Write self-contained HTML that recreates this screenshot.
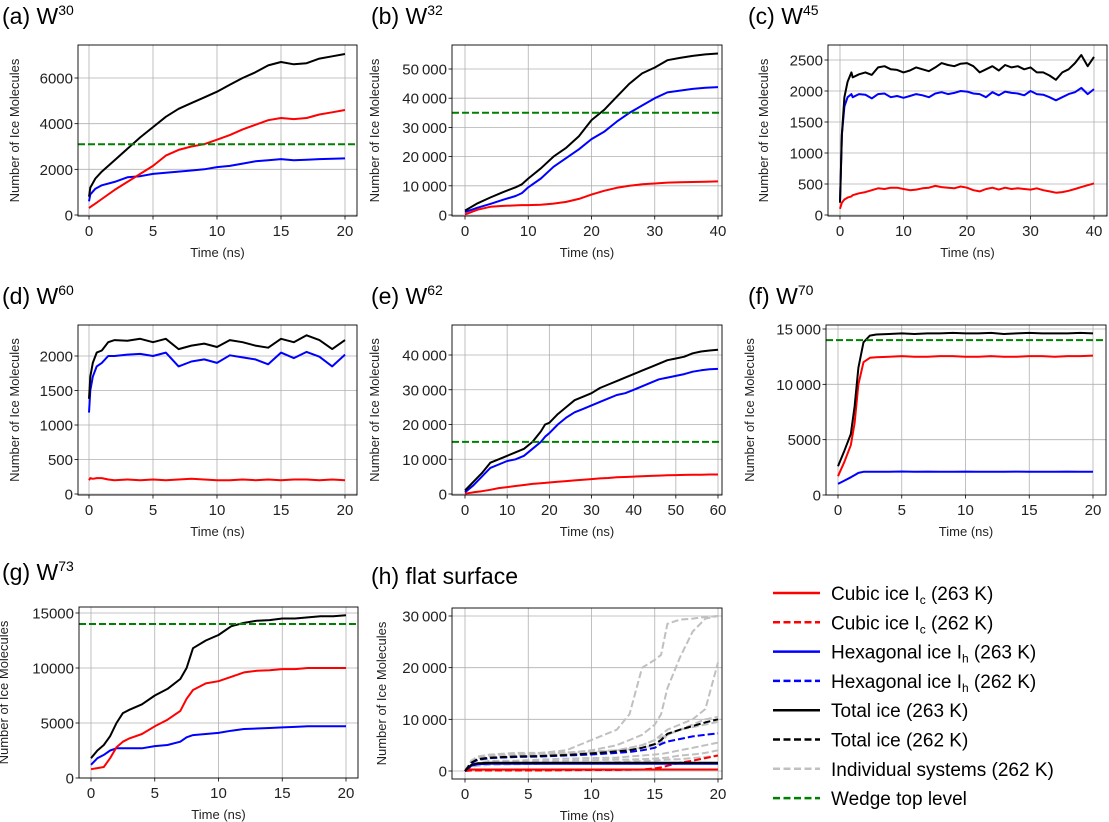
<!DOCTYPE html>
<html><head><meta charset="utf-8">
<style>
body{margin:0;background:#fff;}
svg{display:block;font-family:"Liberation Sans",Arial,sans-serif;}
</style></head>
<body>
<svg id="fig" width="1109" height="822" viewBox="0 0 1109 822" xmlns="http://www.w3.org/2000/svg"></svg>
<script>
// ---------- data ----------
const aTime=[0,0.1,0.5,1,2,3,4,5,6,7,8,9,10,11,12,13,14,15,16,17,18,19,20];
const aTotal=[800,1200,1600,1900,2400,2900,3400,3850,4300,4650,4900,5150,5400,5700,6000,6250,6550,6700,6600,6650,6850,6950,7050];
const aCubic=[300,350,500,700,1100,1450,1800,2150,2600,2850,3000,3100,3300,3500,3750,3950,4150,4250,4200,4250,4400,4500,4600];
const aHex=[600,900,1150,1300,1450,1650,1700,1800,1850,1900,1950,2000,2100,2150,2250,2350,2400,2450,2400,2420,2450,2460,2480];
const aWedge=3100;

const bTime=[0,2,4,6,8,9,10,12,14,16,18,20,22,24,26,28,30,32,34,36,38,40];
const bTotal=[1500,4000,6000,7800,9500,10500,12500,16000,20000,23000,27000,32500,36000,40500,45000,48500,50500,53000,53800,54500,55000,55300];
const bHex=[1000,2500,3800,5200,6500,7500,9500,12500,16500,19500,22500,26000,28500,32000,35000,37500,40000,42000,42600,43200,43600,43800];
const bCubic=[200,1800,2800,3100,3300,3400,3400,3500,3900,4500,5500,7000,8300,9300,10000,10500,10800,11100,11200,11300,11400,11500];
const bWedge=35000;

const cTime=[0,0.3,0.7,1.2,1.8,2,3,4,5,6,7,8,9,10,11,12,13,14,15,16,17,18,19,20,21,22,23,24,25,26,27,28,29,30,31,32,33,34,35,36,37,38,39,40];
const cTotal=[200,1300,1900,2150,2300,2220,2270,2300,2260,2380,2400,2350,2340,2300,2330,2380,2350,2320,2380,2450,2420,2400,2440,2450,2400,2300,2350,2400,2330,2420,2380,2400,2350,2380,2300,2300,2250,2180,2300,2350,2450,2580,2400,2550];
const cHex=[200,1300,1750,1900,1950,1900,1950,1940,1880,1950,1960,1900,1920,1890,1920,1950,1930,1900,1960,1980,1950,1970,2000,1990,1960,1950,1900,1980,1930,1990,1970,1960,1930,2000,1950,1940,1900,1850,1900,1950,1980,2050,1950,2030];
const cCubic=[100,200,250,280,300,320,350,370,400,430,420,440,440,420,400,410,430,440,470,450,440,430,460,440,400,380,420,440,410,440,420,430,420,410,430,400,380,360,370,390,420,450,480,510];

const dTime=[0,0.1,0.3,0.6,1,1.5,2,3,4,5,6,7,8,9,10,11,12,13,14,15,16,17,18,19,20];
const dTotal=[1380,1700,1900,2050,2080,2200,2230,2220,2250,2200,2250,2100,2150,2180,2130,2230,2200,2150,2120,2250,2200,2300,2230,2100,2230];
const dHex=[1180,1500,1700,1850,1900,2000,2000,2020,2030,2000,2050,1850,1920,1950,1900,2010,1980,1950,1880,2050,1970,2060,1990,1850,2020];
const dCubic=[200,230,220,230,230,210,200,210,200,210,200,210,220,210,200,200,210,200,210,200,210,210,200,210,200];

const eTime=[0,2,4,6,8,10,12,14,16,18,19,20,22,24,26,28,30,32,34,36,38,40,42,44,46,48,50,52,54,56,58,60];
const eTotal=[1000,3500,6000,9000,10000,11000,12000,13000,15000,18000,20000,20500,23000,25000,27000,28000,29000,30500,31500,32500,33500,34500,35500,36500,37500,38500,39000,39500,40500,41000,41300,41500];
const eHex=[500,2500,5000,7500,8500,9500,10000,11000,13000,15000,16500,17500,20000,22000,23500,24500,25500,26500,27500,28500,29000,30000,31000,32000,33000,33500,34000,34500,35200,35600,35900,36000];
const eCubic=[100,500,800,1200,1700,2000,2300,2600,2900,3100,3200,3300,3500,3700,3900,4100,4300,4500,4600,4800,4900,5000,5100,5200,5300,5400,5450,5500,5550,5550,5600,5600];
const eWedge=15000;

const fTime=[0,0.5,1,1.3,1.6,2,2.5,3,4,5,6,7,8,9,10,11,12,13,14,15,16,17,18,19,20];
const fTotal=[2600,4000,5500,8000,11500,13800,14400,14500,14550,14600,14550,14600,14600,14650,14600,14600,14650,14550,14600,14650,14600,14600,14600,14650,14600];
const fCubic=[1700,3000,4500,6500,10000,12000,12400,12450,12500,12550,12500,12500,12550,12550,12500,12500,12550,12500,12500,12550,12550,12500,12550,12550,12600];
const fHex=[1000,1300,1600,1800,2000,2100,2100,2100,2100,2120,2100,2110,2100,2100,2110,2100,2100,2100,2110,2100,2100,2100,2110,2100,2100];
const fWedge=14000;

const gTime=[0,0.5,1,1.5,2,2.5,3,4,5,6,7,7.5,8,9,10,11,12,13,14,15,16,17,18,19,20];
const gTotal=[1800,2500,3000,3800,5000,5900,6200,6700,7500,8100,9000,10000,11800,12500,13000,13800,14100,14300,14350,14500,14500,14600,14700,14700,14800];
const gCubic=[800,900,1000,1800,2800,3300,3600,4000,4700,5300,6100,7200,8000,8600,8800,9200,9600,9750,9800,9900,9900,10000,10000,10000,10000];
const gHex=[1200,1800,2100,2500,2700,2700,2700,2700,2900,3000,3300,3700,3900,4000,4100,4300,4450,4500,4550,4600,4650,4700,4700,4700,4700];
const gWedge=14000;

const hTime=[0,0.5,1,2,4,6,8,10,12,13,14,15,15.5,16,17,18,19,20];
const hCubic263=[300,300,300,300,300,300,300,300,300,300,300,300,300,300,300,300,300,300];
const hCubic262=[0,100,100,100,100,100,150,200,200,250,300,500,700,1000,1600,2000,2500,3000];
const hHex263=[0,1000,1300,1400,1400,1400,1400,1400,1400,1400,1400,1400,1400,1400,1400,1400,1400,1400];
const hTotal263=[0,1200,1500,1600,1600,1600,1600,1600,1600,1600,1600,1600,1600,1600,1600,1600,1600,1600];
const hHex262=[0,1500,2200,2500,2700,2800,3000,3200,3500,3700,4000,4500,5200,5700,6200,6700,7000,7300];
const hTotal262=[0,1600,2300,2600,2800,2900,3100,3400,3800,4000,4500,5200,6000,7200,8000,8700,9400,10000];
const hSys1=[0,2000,2500,3000,3200,3500,4000,6000,8000,11000,20000,21500,22500,28500,29300,29500,29800,30000];
const hSys2=[0,2000,2500,3000,3200,3300,3500,4000,5000,6000,7000,9000,11000,16000,22000,27000,29500,30000];
const hSys3=[0,1800,2200,2500,2800,3000,3300,3500,4000,4500,5000,6000,7000,8000,9000,10000,12000,21000];
const hSys4=[0,1500,2000,2500,2800,3000,3200,3500,4000,4500,5000,6000,6500,7000,8000,9000,10000,10500];
const hSys5=[0,1000,1500,2000,2000,2200,2400,2500,2600,2800,3000,3200,3300,3500,4000,4500,5000,5500];
const hSys6=[0,1200,1500,1700,1800,1900,2000,2100,2200,2200,2300,2400,2500,2600,3000,3200,3500,4000];
const hSys7=[0,800,1000,1200,1300,1400,1500,1600,1700,1800,1900,2000,2100,2200,2300,2500,2700,3000];
const hSys8=[0,2000,2800,3200,3500,3500,3600,3800,4000,4200,4500,5000,5500,7000,8000,8500,9000,9500];

const legendLabels=["Cubic ice I|c| (263 K)","Cubic ice I|c| (262 K)","Hexagonal ice I|h| (263 K)","Hexagonal ice I|h| (262 K)","Total ice (263 K)","Total ice (262 K)","Individual systems (262 K)","Wedge top level"];

// ---------- drawing ----------
const NS="http://www.w3.org/2000/svg";
const svg=document.getElementById('fig');
const RED="#ff0000",BLUE="#0000ff",BLACK="#000000",GRAY="#c0c0c0",GREEN="#008000";
function mk(tag,attrs,parent){const e=document.createElementNS(NS,tag);for(const k in attrs)e.setAttribute(k,attrs[k]);(parent||svg).appendChild(e);return e;}
function fmt(v,sep){const s=String(v);if(sep&&v>=10000)return s.slice(0,s.length-3)+"\u2009"+s.slice(-3);return s;}

function panel(cfg){
  const g=mk('g',{});
  
  
  const [l,t,r,b]=cfg.box;
  const X=v=>cfg.xc[1]+(v-cfg.xc[0])*(cfg.xc[3]-cfg.xc[1])/(cfg.xc[2]-cfg.xc[0]);
  const Y=v=>cfg.yc[1]+(v-cfg.yc[0])*(cfg.yc[3]-cfg.yc[1])/(cfg.yc[2]-cfg.yc[0]);
  cfg.xt.forEach(v=>{const gl=mk('line',{x1:X(v),x2:X(v),y1:t,y2:b,stroke:'#b0b0b0','stroke-width':0.8},g);});
  cfg.yt.forEach(v=>{const gl=mk('line',{x1:l,x2:r,y1:Y(v),y2:Y(v),stroke:'#b0b0b0','stroke-width':0.8},g);});
  const cp=mk('clipPath',{id:'clip-'+cfg.id},g);mk('rect',{x:l,y:t,width:r-l,height:b-t},cp);
  const lines=mk('g',{'clip-path':'url(#clip-'+cfg.id+')'},g);
  cfg.series.forEach(s=>{
    let d='';const n=Math.min(s.x.length,s.y.length);
    for(let i=0;i<n;i++)d+=(i?'L':'M')+X(s.x[i]).toFixed(1)+' '+Y(s.y[i]).toFixed(1);
    const p=mk('path',{d:d,fill:'none',stroke:s.c,'stroke-width':s.w||2,'stroke-linejoin':'round'},lines);
    if(s.dash)p.setAttribute('stroke-dasharray',s.dash);
    
    
  });
  if(cfg.wedge!==undefined){
    const w=mk('line',{x1:l,x2:r,y1:Y(cfg.wedge),y2:Y(cfg.wedge),stroke:GREEN,'stroke-width':2,'stroke-dasharray':'7,3'},lines);
    
    
  }
  const sp=mk('rect',{x:l,y:t,width:r-l,height:b-t,fill:'none',stroke:'#000','stroke-width':0.9},g);
  
  
  cfg.xt.forEach(v=>{mk('line',{x1:X(v),x2:X(v),y1:b,y2:b+3.5,stroke:'#000','stroke-width':0.8},g);
    const tx=mk('text',{x:X(v),y:b+20,'font-size':15,'text-anchor':'middle',fill:'#222'},g);tx.textContent=v;
    });
  cfg.yt.forEach(v=>{mk('line',{x1:l-3.5,x2:l,y1:Y(v),y2:Y(v),stroke:'#000','stroke-width':0.8},g);
    const tx=mk('text',{x:l-5,y:Y(v)+5.5,'font-size':15,'text-anchor':'end',fill:'#222'},g);tx.textContent=fmt(v,cfg.sep);
    });
  const xl=mk('text',{x:(l+r)/2,y:b+41,'font-size':13,'text-anchor':'middle',fill:'#222'},g);xl.textContent='Time (ns)';
  
  const yl=mk('text',{x:0,y:0,'font-size':13,'text-anchor':'middle',fill:'#222',transform:'translate('+(cfg.ylx+5)+','+((t+b)/2)+') rotate(-90)'},g);yl.textContent='Number of Ice Molecules';
  
  const ti=mk('text',{x:cfg.title[0],y:cfg.title[1],'font-size':23,fill:'#000'},g);
  
  ti.textContent=cfg.label+' ';
  if(cfg.sup){const w=mk('tspan',{},ti);w.textContent='W';const s=mk('tspan',{'font-size':14,dy:-9},ti);s.textContent=cfg.sup;}
  else ti.textContent=cfg.label;
}
function std(tx,cu,hx,to){return [
 {x:tx,y:hx,c:BLUE,name:'hexagonal-ice-263k'},
 {x:tx,y:cu,c:RED,name:'cubic-ice-263k'},
 {x:tx,y:to,c:BLACK,name:'total-ice-263k'}];}

panel({id:'a',label:'(a)',sup:'30',title:[2,24],box:[78,45,357,216],xc:[0,89,20,345],yc:[0,215,6000,78],xt:[0,5,10,15,20],yt:[0,2000,4000,6000],ylx:14,series:std(aTime,aCubic,aHex,aTotal),wedge:aWedge});
panel({id:'b',label:'(b)',sup:'32',title:[371,24],box:[452,45,722,216],xc:[0,465,40,718],yc:[0,215,50000,69],xt:[0,10,20,30,40],yt:[0,10000,20000,30000,40000,50000],sep:true,ylx:374,series:std(bTime,bCubic,bHex,bTotal),wedge:bWedge});
panel({id:'c',label:'(c)',sup:'45',title:[748,24],box:[828,45,1107,216],xc:[0,840,40,1094],yc:[0,215,2500,60],xt:[0,10,20,30,40],yt:[0,500,1000,1500,2000,2500],ylx:763,series:std(cTime,cCubic,cHex,cTotal)});
panel({id:'d',label:'(d)',sup:'60',title:[2,304],box:[78,325,357,495],xc:[0,89,20,345],yc:[0,494,2000,356],xt:[0,5,10,15,20],yt:[0,500,1000,1500,2000],ylx:14,series:std(dTime,dCubic,dHex,dTotal)});
panel({id:'e',label:'(e)',sup:'62',title:[371,304],box:[452,325,722,495],xc:[0,465,60,718],yc:[0,494,40000,355],xt:[0,10,20,30,40,50,60],yt:[0,10000,20000,30000,40000],sep:true,ylx:374,series:std(eTime,eCubic,eHex,eTotal),wedge:eWedge});
panel({id:'f',label:'(f)',sup:'70',title:[748,304],box:[826,325,1106,495],xc:[0,838,20,1093],yc:[0,495,15000,329],xt:[0,5,10,15,20],yt:[0,5000,10000,15000],sep:true,ylx:749,series:std(fTime,fCubic,fHex,fTotal),wedge:fWedge});
panel({id:'g',label:'(g)',sup:'73',title:[2,580],box:[79,607,358,778],xc:[0,91,20,346],yc:[0,778,15000,613],xt:[0,5,10,15,20],yt:[0,5000,10000,15000],ylx:3,series:std(gTime,gCubic,gHex,gTotal),wedge:gWedge});
const DS='7,3';
panel({id:'h',label:'(h) flat surface',title:[371,584],box:[452,608,722,779],xc:[0,465,20,718],yc:[0,771,30000,616],xt:[0,5,10,15,20],yt:[0,10000,20000,30000],sep:true,ylx:381,series:[
 {x:hTime,y:hSys1,c:GRAY,dash:DS,name:'individual-system-1'},
 {x:hTime,y:hSys2,c:GRAY,dash:DS,name:'individual-system-2'},
 {x:hTime,y:hSys3,c:GRAY,dash:DS,name:'individual-system-3'},
 {x:hTime,y:hSys4,c:GRAY,dash:DS,name:'individual-system-4'},
 {x:hTime,y:hSys5,c:GRAY,dash:DS,name:'individual-system-5'},
 {x:hTime,y:hSys6,c:GRAY,dash:DS,name:'individual-system-6'},
 {x:hTime,y:hSys7,c:GRAY,dash:DS,name:'individual-system-7'},
 {x:hTime,y:hSys8,c:GRAY,dash:DS,name:'individual-system-8'},
 {x:hTime,y:hCubic263,c:RED,name:'cubic-ice-263k'},
 {x:hTime,y:hCubic262,c:RED,dash:DS,name:'cubic-ice-262k'},
 {x:hTime,y:hHex263,c:BLUE,name:'hexagonal-ice-263k'},
 {x:hTime,y:hTotal263,c:BLACK,name:'total-ice-263k'},
 {x:hTime,y:hHex262,c:BLUE,dash:DS,name:'hexagonal-ice-262k'},
 {x:hTime,y:hTotal262,c:BLACK,dash:DS,name:'total-ice-262k'}]});

const legColors=[RED,RED,BLUE,BLUE,BLACK,BLACK,GRAY,GREEN];
const legDash=[false,true,false,true,false,true,true,true];
const lg=mk('g',{});


legendLabels.forEach((lab,i)=>{
  const y=593+i*29.3;
  const ent=mk('g',{},lg);
  
  
  const ln=mk('line',{x1:773,x2:820,y1:y,y2:y,stroke:legColors[i],'stroke-width':2.5},ent);
  if(legDash[i])ln.setAttribute('stroke-dasharray','7,3.5');
  const tx=mk('text',{x:831,y:y+7,'font-size':19,fill:'#000'},ent);
  const parts=lab.split('|');
  const a=mk('tspan',{},tx);a.textContent=parts[0];
  if(parts.length>1){const s=mk('tspan',{'font-size':12,dy:4},tx);s.textContent=parts[1];const c=mk('tspan',{dy:-4},tx);c.textContent=parts[2];}
});
</script>
</body></html>
